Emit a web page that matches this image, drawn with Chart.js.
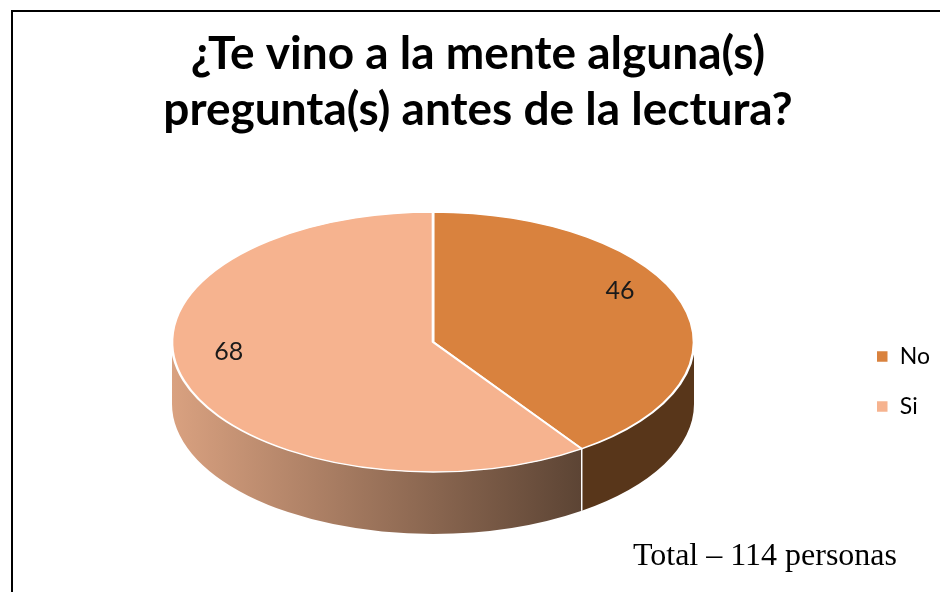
<!DOCTYPE html>
<html>
<head>
<meta charset="utf-8">
<script src="https://cdn.jsdelivr.net/npm/chart.js@4.4.1/dist/chart.umd.min.js"></script>
<style>
  html, body { margin: 0; padding: 0; background: #fff; }
  #wrap { width: 940px; height: 592px; }
</style>
</head>
<body>
<div id="wrap"><canvas id="pieChart" width="940" height="592"></canvas></div>
<script>
// data
const categories = ['No', 'Si'];
const answers = [46, 68];
const topColors = ['#d9823e', '#f6b38f'];
const titleLines = ['¿Te vino a la mente alguna(s)', 'pregunta(s) antes de la lectura?'];
const totalNote = 'Total – 114 personas';

// where the tilted pie sits on the page (apexLift/persp only move the value labels)
const pieView = { cx: 433, cy: 342, rx: 261, ry: 130, depth: 62, labelAt: 0.8, apexLift: 22, persp: 0.185 };

const pie3d = {
  id: 'pie3d',
  beforeDraw(chart) {
    const ctx = chart.ctx;
    ctx.save();
    ctx.fillStyle = '#fff';
    ctx.fillRect(0, 0, chart.width, chart.height);
    ctx.strokeStyle = '#000';
    ctx.lineWidth = 2;
    ctx.beginPath();
    ctx.moveTo(12, chart.height);
    ctx.lineTo(12, 11);
    ctx.lineTo(chart.width, 11);
    ctx.stroke();
    ctx.restore();
  },
  beforeDatasetsDraw(chart) {
    const ctx = chart.ctx;
    const arcs = chart.getDatasetMeta(0).data;
    const { cx, cy, rx, ry, depth } = pieView;
    const TAU = Math.PI * 2;

    const side = (lo, hi, fill) => {
      ctx.beginPath();
      ctx.ellipse(cx, cy, rx, ry, 0, lo, hi);
      ctx.lineTo(cx + rx * Math.cos(hi), cy + ry * Math.sin(hi) + depth);
      ctx.ellipse(cx, cy + depth, rx, ry, 0, hi, lo, true);
      ctx.closePath();
      ctx.fillStyle = fill;
      ctx.fill();
    };

    ctx.save();
    arcs.forEach((arc, i) => {
      let fill;
      if (i === 0) {
        fill = '#58361a';
      } else {
        const g = ctx.createLinearGradient(cx - rx, 0, cx + rx * Math.cos(arc.startAngle), 0);
        g.addColorStop(0, '#d9a180');
        g.addColorStop(1, '#5c4434');
        fill = g;
      }
      for (const k of [-1, 0, 1]) {
        const lo = Math.max(arc.startAngle, k * TAU);
        const hi = Math.min(arc.endAngle, k * TAU + Math.PI);
        if (hi > lo) side(lo, hi, fill);
      }
    });
    // white seams on the wall where slices meet
    ctx.strokeStyle = '#fff';
    ctx.lineWidth = 1.5;
    arcs.forEach(arc => {
      const a = ((arc.startAngle % TAU) + TAU) % TAU;
      if (a > 0 && a < Math.PI) {
        const x = cx + rx * Math.cos(a), y = cy + ry * Math.sin(a);
        ctx.beginPath();
        ctx.moveTo(x, y);
        ctx.lineTo(x, y + depth);
        ctx.stroke();
      }
    });
    ctx.restore();

    // squash the library's round pie into the tilted ellipse
    const a0 = arcs[0];
    ctx.save();
    ctx.translate(cx, cy);
    ctx.scale(rx / a0.outerRadius, ry / a0.outerRadius);
    ctx.translate(-a0.x, -a0.y);
  },
  afterDatasetsDraw(chart) {
    const ctx = chart.ctx;
    ctx.restore();
    const arcs = chart.getDatasetMeta(0).data;
    const { cx, cy, rx, ry, labelAt, apexLift, persp } = pieView;
    ctx.save();
    ctx.fillStyle = '#1a1a1a';
    ctx.font = '25px Lato';
    ctx.textAlign = 'center';
    ctx.textBaseline = 'middle';
    arcs.forEach((arc, i) => {
      const mid = (arc.startAngle + arc.endAngle) / 2;
      // point on the disc, seen with a little perspective
      const u = labelAt * Math.cos(mid);
      const back = -labelAt * Math.sin(mid);
      const w = 1 + persp * back;
      const x = cx + rx * 0.98 * u / w;
      const y = cy - apexLift - ry * 0.97 * back / w;
      ctx.fillText(String(answers[i]), x, y);
    });
    ctx.fillStyle = '#000';
    ctx.font = '32px "Liberation Serif"';
    ctx.textAlign = 'right';
    ctx.textBaseline = 'alphabetic';
    ctx.fillText(totalNote, 897, 565);
    ctx.restore();
  }
};

new Chart(document.getElementById('pieChart'), {
  type: 'pie',
  data: {
    labels: categories,
    datasets: [{
      data: answers,
      backgroundColor: topColors,
      borderColor: '#ffffff',
      borderWidth: 1.5,
      clip: false
    }]
  },
  options: {
    responsive: false,
    animation: false,
    layout: { padding: { left: 16, right: 0, bottom: 147 } },
    plugins: {
      title: {
        display: true,
        text: titleLines,
        color: '#000',
        font: { family: 'Lato', size: 46, weight: 'bold', lineHeight: 1.22 },
        padding: { top: 26, bottom: 10 }
      },
      legend: {
        position: 'right',
        align: 'end',
        labels: {
          color: '#000',
          font: { family: 'Lato', size: 23 },
          boxWidth: 12,
          boxHeight: 12,
          padding: 27
        }
      },
      tooltip: { enabled: false }
    }
  },
  plugins: [pie3d]
});
</script>
</body>
</html>
